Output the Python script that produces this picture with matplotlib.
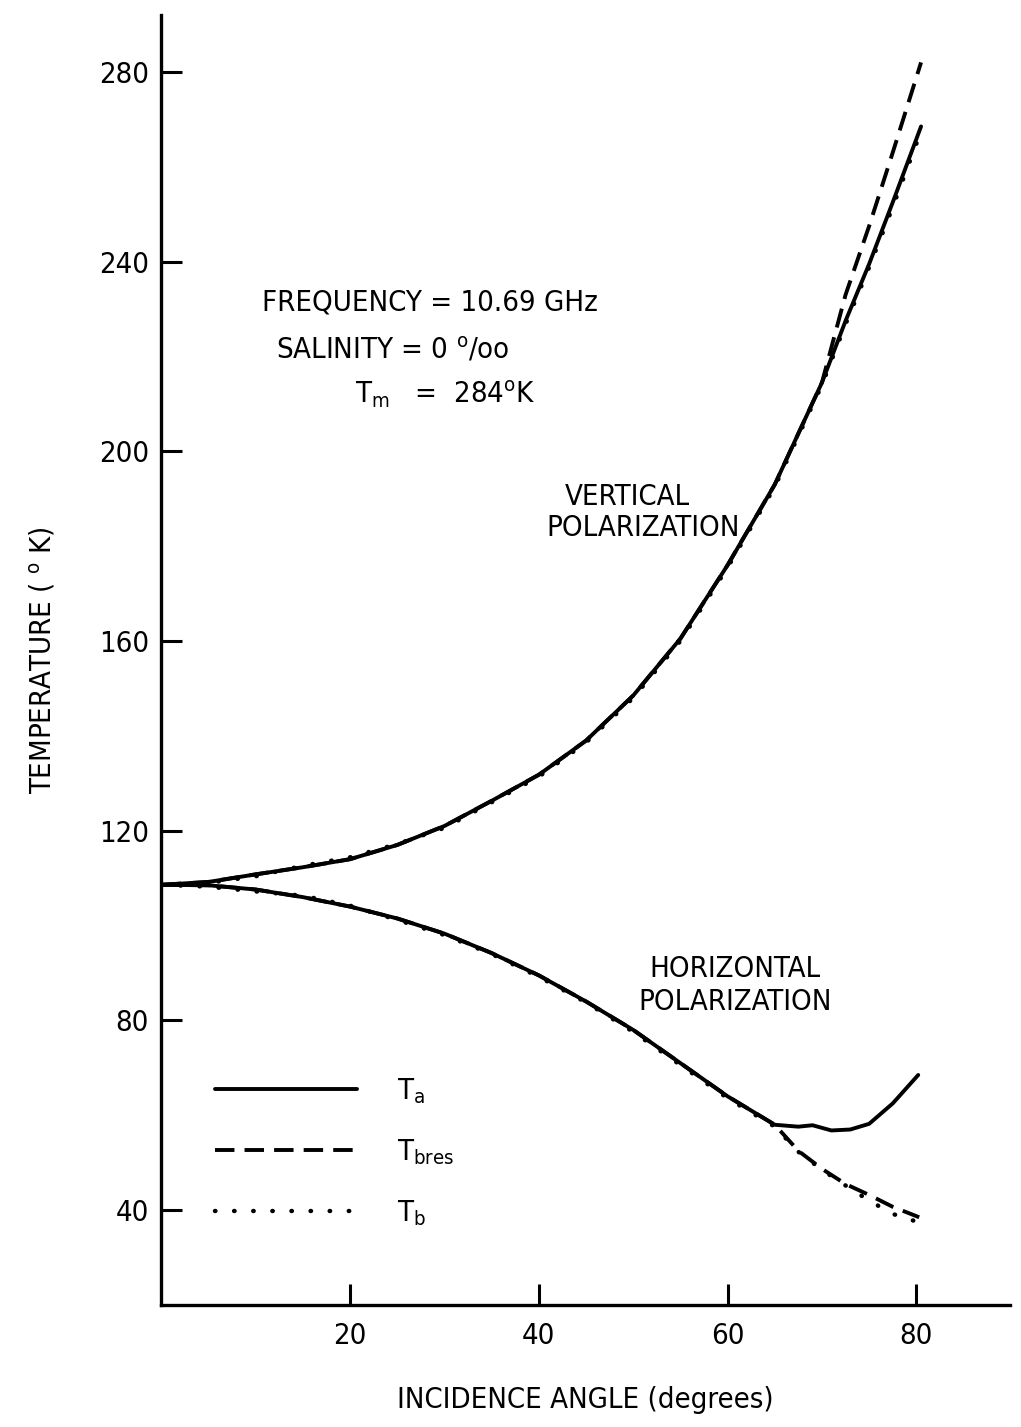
import matplotlib
matplotlib.use("Agg")
import matplotlib.pyplot as plt

plt.rcParams['font.family'] = ['DejaVu Sans']
plt.rcParams['font.stretch'] = 'condensed'
plt.rcParams['mathtext.default'] = 'regular'

# Brightness temperature vs incidence angle, calm fresh water at 10.69 GHz
angle_v = [0, 5, 10, 15, 20, 25, 30, 35, 40, 45, 50, 55, 60, 65, 70, 72.5, 75, 77.5, 80.5]
ta_v = [108.6, 109.2, 110.8, 112.3, 114.0, 117.0, 121.0, 126.3, 131.8, 139.0,
        148.5, 160.5, 176.0, 193.0, 214.5, 227.5, 239.5, 252.5, 268.5]
tbres_v = [108.6, 109.2, 110.8, 112.3, 114.0, 117.0, 121.0, 126.3, 131.8, 139.0,
           148.5, 160.5, 176.0, 193.0, 214.5, 233.0, 247.5, 263.0, 282.0]
tb_v = [108.6, 109.0, 110.4, 112.6, 114.4, 117.2, 120.6, 126.0, 131.4, 138.6,
        148.0, 160.0, 175.5, 192.5, 214.0, 226.8, 238.8, 251.5, 267.5]

angle_h = [0, 5, 10, 15, 20, 25, 30, 35, 40, 45, 50, 55, 60, 65,
           67.5, 69, 71, 73, 75, 77.5, 80.2]
ta_h = [108.6, 108.5, 107.6, 106.0, 104.0, 101.5, 98.3, 94.2, 89.5, 84.0,
        78.0, 71.0, 64.0, 58.0, 57.6, 57.9, 56.8, 57.0, 58.2, 62.5, 68.5]

angle_hb = [0, 5, 10, 15, 20, 25, 30, 35, 40, 45, 50, 55, 60, 65,
            67.5, 70, 72.5, 75, 77.5, 80.3]
tbres_h = [108.6, 108.5, 107.6, 106.0, 104.0, 101.5, 98.3, 94.2, 89.5, 84.0,
           78.0, 71.0, 64.0, 58.0, 52.5, 48.7, 45.5, 43.2, 40.7, 38.5]
tb_h = [108.6, 108.2, 107.2, 106.3, 104.2, 101.2, 98.0, 94.0, 89.2, 83.8,
        77.6, 70.6, 63.6, 57.6, 52.3, 48.5, 45.2, 42.0, 39.2, 37.4]

xticks = [20, 40, 60, 80]
yticks = [40, 80, 120, 160, 200, 240, 280]

fig = plt.figure(figsize=(10.21, 14.27), dpi=100)
ax = fig.add_axes([0.158, 0.0855, 0.831, 0.904])

lw = 2.8
solid_kw = dict(color='black', lw=lw, solid_capstyle='round')
dash_kw = dict(color='black', lw=lw, linestyle=(0, (5, 2.6)), dash_capstyle='butt')
dot_kw = dict(color='black', lw=lw + 0.4, linestyle=(0, (0.1, 4.2)), dash_capstyle='round')

l1, = ax.plot(angle_v, ta_v, **solid_kw)
l2, = ax.plot(angle_v, tbres_v, **dash_kw)
l3, = ax.plot(angle_v, tb_v, **dot_kw)
ax.plot(angle_h, ta_h, **solid_kw)
ax.plot(angle_hb, tbres_h, **dash_kw)
ax.plot(angle_hb, tb_h, **dot_kw)

ax.set_xlim(0, 89.9)
ax.set_ylim(20, 292)
ax.set_xticks(xticks)
ax.set_yticks(yticks)
ax.tick_params(direction='in', length=15, width=2.2, labelsize=21, pad=9)
ax.tick_params(axis='x', pad=12)
for side in ['top', 'right']:
    ax.spines[side].set_visible(False)
for side in ['left', 'bottom']:
    ax.spines[side].set_linewidth(2.4)

ax.set_xlabel('INCIDENCE ANGLE (degrees)', fontsize=21, labelpad=26)
ax.set_ylabel(r'TEMPERATURE ( $^{o}$ K)', fontsize=21, labelpad=30)

fs = 21
ax.text(10.7, 231.3, 'FREQUENCY = 10.69 GHz', fontsize=fs, va='center', ha='left')
ax.text(12.1, 221.4, r'SALINITY = 0 $^{o}$/oo', fontsize=fs, va='center', ha='left')
ax.text(20.5, 212.0, r'$T_m$   =  284$^{o}$K', fontsize=fs, va='center', ha='left')
ax.text(49.4, 190.4, 'VERTICAL', fontsize=fs, va='center', ha='center')
ax.text(51.0, 183.9, 'POLARIZATION', fontsize=fs, va='center', ha='center')
ax.text(60.8, 90.8, 'HORIZONTAL', fontsize=fs, va='center', ha='center')
ax.text(60.8, 83.8, 'POLARIZATION', fontsize=fs, va='center', ha='center')

ax.legend([l1, l2, l3], [r'$T_a$', r'$T_{bres}$', r'$T_b$'],
          loc='upper left', bbox_to_anchor=(5.7, 68.2),
          bbox_transform=ax.transData, frameon=False, fontsize=fs,
          handlelength=4.85, handletextpad=1.4, labelspacing=1.07,
          borderpad=0, borderaxespad=0)

fig.savefig('out.png', dpi=100)
